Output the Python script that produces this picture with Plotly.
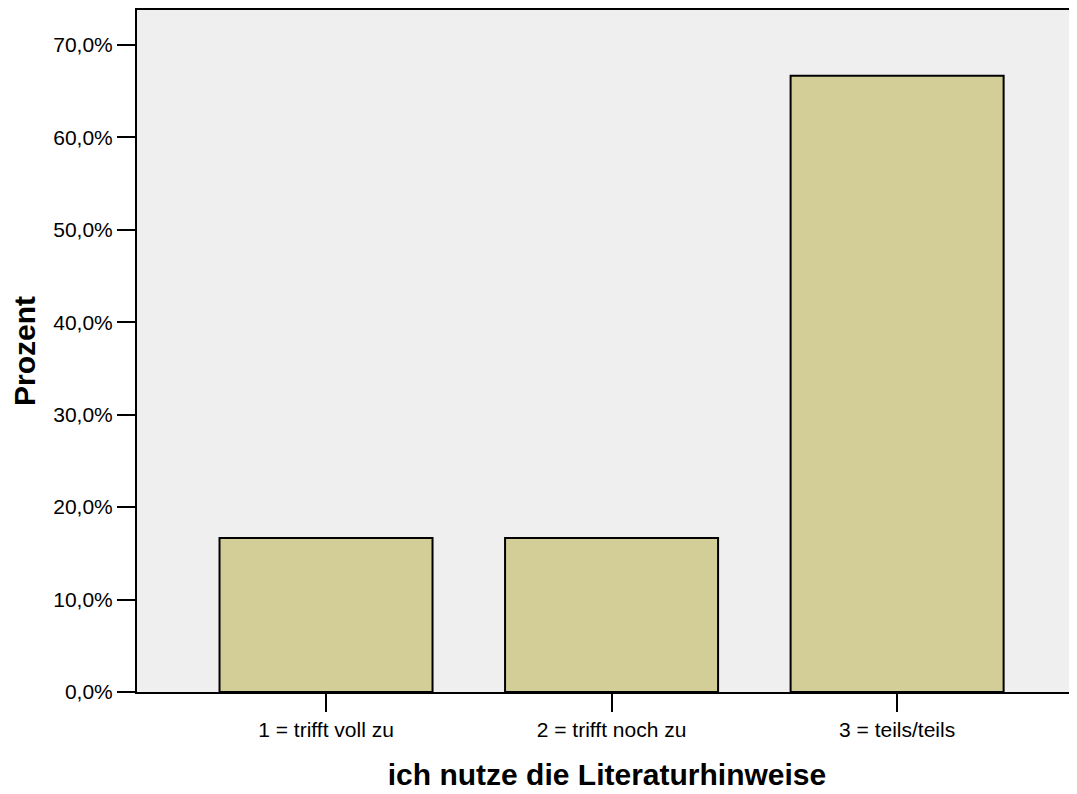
import plotly.graph_objects as go

categories = ["1 = trifft voll zu", "2 = trifft noch zu", "3 = teils/teils"]
prozent = [16.67, 16.67, 66.67]
y_ticks = [0, 10, 20, 30, 40, 50, 60, 70]
y_labels = ["0,0%", "10,0%", "20,0%", "30,0%", "40,0%", "50,0%", "60,0%", "70,0%"]

fig = go.Figure()
fig.add_trace(go.Bar(
    x=categories, y=prozent,
    width=0.746,
    marker=dict(color="#D3CE97", line=dict(color="black", width=2)),
))

# page body has an 8px margin, so the figure is sized/offset to compensate
fig.update_layout(
    width=1069, height=786,
    margin=dict(l=129, r=0, t=0, b=102),
    paper_bgcolor="white", plot_bgcolor="#EFEFEF",
    font=dict(family="Arial", size=21, color="black"),
    showlegend=False,
)
fig.update_xaxes(
    range=[-0.662, 2.63],
    showline=True, linecolor="black", linewidth=2, mirror=True,
    ticks="outside", ticklen=18, tickwidth=2, tickcolor="black",
    tickfont=dict(family="Arial", size=21, color="black"),
    showgrid=False,
    title=dict(text="<b>ich nutze die Literaturhinweise</b>",
               font=dict(family="Arial", size=30, color="black"), standoff=24),
)
fig.update_yaxes(
    range=[0, 73.77],
    tickvals=y_ticks, ticktext=y_labels,
    showline=True, linecolor="black", linewidth=2,
    ticks="outside", ticklen=18, tickwidth=2, tickcolor="black",
    tickfont=dict(family="Arial", size=21, color="black"),
    showgrid=False, zeroline=False,
    title=dict(text="<b>Prozent</b>",
               font=dict(family="Arial", size=30, color="black"), standoff=18),
)

fig.write_html("out.html")
